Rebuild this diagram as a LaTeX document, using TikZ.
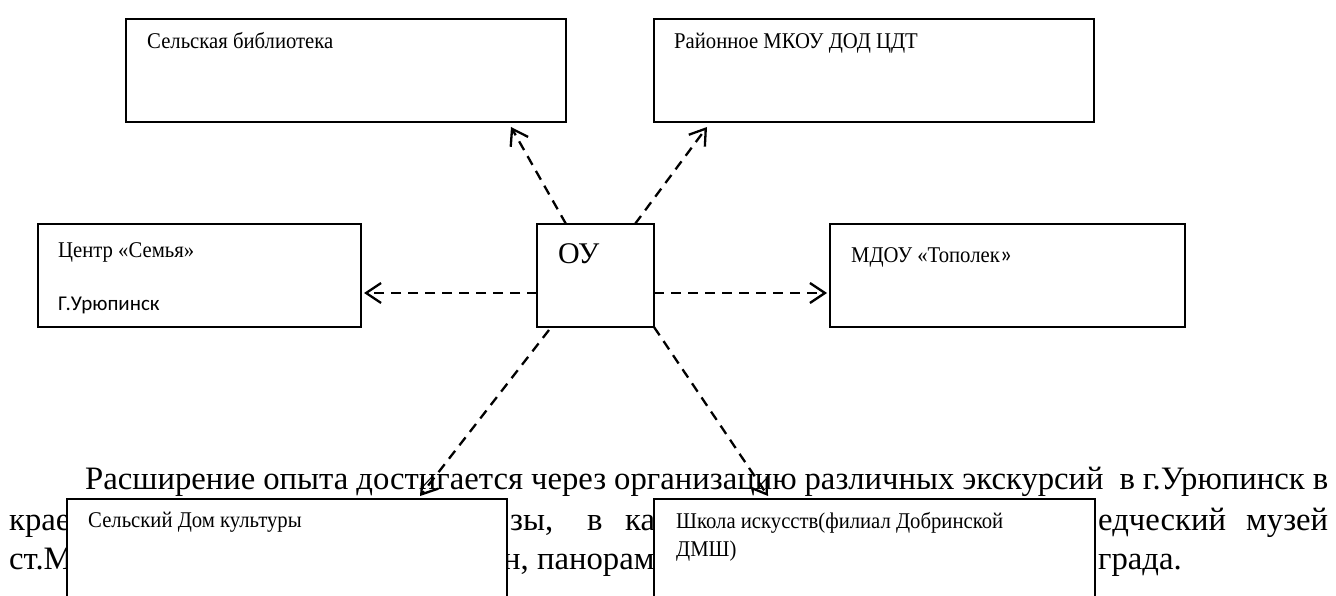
\documentclass[tikz,border=0pt]{standalone}
\usepackage{fontspec}
\setmainfont{Liberation Serif}
\newfontfamily\boxfont{Liberation Serif}[FakeStretch=0.92]
\newfontfamily\calfont{Carlito}
\usetikzlibrary{arrows.meta}
\begin{document}
\begin{tikzpicture}[x=1pt,y=-1pt,
  box/.style={draw, line width=2pt, fill=white, inner sep=0pt, outer sep=0pt, anchor=north west},
  lbl/.style={inner sep=0pt, anchor=base west, font=\boxfont\fontsize{22.5}{27}\selectfont},
  body/.style={inner sep=0pt, anchor=base west, font=\fontsize{32.7}{39}\selectfont},
  link/.style={line width=2.3pt, dash pattern=on 10pt off 7pt, -{Straight Barb[length=15pt,width=20pt]}}
]
\useasboundingbox (0,0) rectangle (1336,596);
\clip (0,0) rectangle (1336,596);
% background paragraph
\node[body] (t1) at (85,489) {\makebox[1243pt][s]{Расширение опыта достигается через организацию различных экскурсий\ \ в г.Урюпинск в}};
\node[body] (t2a) at (9,530) {крае};
\node[body] (t2b) at (510,530) {зы,};
\node[body] (t2c) at (587,530) {в};
\node[body] (t2d) at (625,530) {ка};
\node[body] (t2e) at (1098,530) {\makebox[230pt][s]{едческий музей}};
\node[body] (t3a) at (9,569) {ст.М};
\node[body] (t3b) at (503,569) {н, панораму};
\node[body] (t3c) at (1098,569) {града.};
% boxes
\node[box, minimum width=440pt, minimum height=103pt] (A) at (126,19) {};
\node[box, minimum width=440pt, minimum height=103pt] (B) at (654,19) {};
\node[box, minimum width=323pt, minimum height=103pt] (C) at (38,224) {};
\node[box, minimum width=117pt, minimum height=103pt] (O) at (537,224) {};
\node[box, minimum width=355pt, minimum height=103pt] (D) at (830,224) {};
% connectors
\draw[link] ([xshift=29pt]O.north west) -- ([xshift=385pt,yshift=-5pt]A.south west);
\draw[link] ([xshift=98pt]O.north west) -- ([xshift=53pt,yshift=-5pt]B.south west);
\draw[link] ([yshift=-69pt]O.north west) -- ([xshift=3pt,yshift=-69pt]C.north east);
\draw[link] ([yshift=-69pt]O.north east) -- ([xshift=-3pt,yshift=-69pt]D.north west);
\node[box, minimum width=440pt, minimum height=130pt] (E) at (67,499) {};
\node[box, minimum width=441pt, minimum height=130pt] (F) at (654,499) {};
\draw[link] ([xshift=12pt,yshift=-3pt]O.south west) -- ([xshift=353pt,yshift=3pt]E.north west);
\draw[link] (O.south east) -- ([xshift=114pt,yshift=3pt]F.north west);
% labels
\node[lbl] (Al) at (147,49) {Сельская библиотека};
\node[lbl] (Bl) at (674,49) {Районное МКОУ ДОД ЦДТ};
\node[lbl] (Cl1) at (58,258) {Центр «Семья»};
\node[inner sep=0pt, anchor=base west, font=\calfont\fontsize{21}{25}\selectfont] (Cl2) at (58,310) {Г.Урюпинск};
\node[inner sep=0pt, anchor=base west, font=\fontsize{30}{36}\selectfont] (Ol) at (558,263) {ОУ};
\node[lbl] (Dl) at (851,262) {МДОУ «Тополек{\calfont\fontsize{24}{27}\selectfont »}};
\node[lbl] (El) at (88,527) {Сельский Дом культуры};
\node[lbl] (Fl1) at (676,528) {Школа искусств(филиал Добринской};
\node[lbl] (Fl2) at (676,556) {ДМШ)};
\end{tikzpicture}
\end{document}
